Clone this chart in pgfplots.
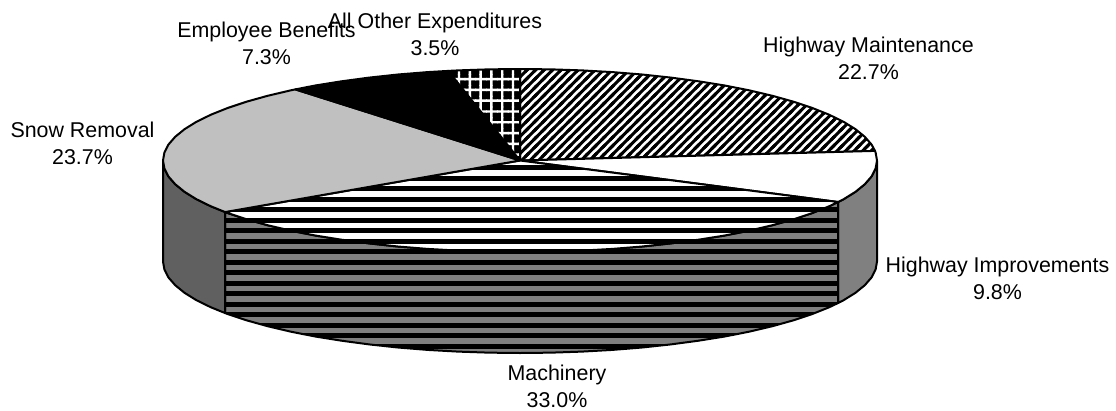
\documentclass[border=0pt]{standalone}
\usepackage{fontspec}
\setmainfont{Liberation Sans}
\usepackage{pgfplots}
\usepackage{pgfplotstable}
\pgfplotsset{compat=1.18}
\usetikzlibrary{patterns}
\pgfdeclarepatternformonly{hstr}{\pgfqpoint{-2pt}{-3pt}}{\pgfqpoint{12.5pt}{7.5pt}}{\pgfqpoint{10.5pt}{10.5pt}}{%
  \pgfpathrectangle{\pgfqpoint{-2pt}{-1.9pt}}{\pgfqpoint{14.5pt}{5.2pt}}\pgfusepath{fill}}
\pgfdeclarepatternformonly{dstr}{\pgfqpoint{-1pt}{-1pt}}{\pgfqpoint{9.5pt}{9.5pt}}{\pgfqpoint{8.5pt}{8.5pt}}{%
  \pgfsetlinewidth{3pt}\pgfsetbuttcap
  \pgfpathmoveto{\pgfqpoint{-2pt}{-2pt}}\pgfpathlineto{\pgfqpoint{10.5pt}{10.5pt}}
  \pgfpathmoveto{\pgfqpoint{-2pt}{-10.5pt}}\pgfpathlineto{\pgfqpoint{10.5pt}{2pt}}
  \pgfpathmoveto{\pgfqpoint{-2pt}{6.5pt}}\pgfpathlineto{\pgfqpoint{2pt}{10.5pt}}
  \pgfusepath{stroke}}
\pgfdeclarepatternformonly{xgrid}{\pgfqpoint{0pt}{0pt}}{\pgfqpoint{12pt}{12pt}}{\pgfqpoint{10.8pt}{10.8pt}}{%
  \pgfpathrectangle{\pgfqpoint{0pt}{5.7pt}}{\pgfqpoint{12pt}{2.4pt}}
  \pgfpathrectangle{\pgfqpoint{4.2pt}{0pt}}{\pgfqpoint{2.4pt}{12pt}}\pgfusepath{fill}}
\definecolor{wallL}{HTML}{606060}
\definecolor{wallM}{HTML}{808080}
\definecolor{silv}{HTML}{C0C0C0}
% top of the pie: slices as outlines
\pgfplotstableread{
x y
520 160.5
520 69
551.1 69.35
582.0 70.4
612.4 72.1
642.1 74.5
670.9 77.6
698.5 81.3
724.8 85.5
749.5 90.4
772.4 95.8
793.5 101.7
812.4 108.0
829.2 114.75
843.6 121.8
855.5 129.2
864.8 136.8
871.6 144.6
875.0 150.9
520 160.5
}\maint
\pgfplotstableread{
x y
520 160.5
875.0 150.9
875.6 152.5
877 160.5
875.6 168.5
871.6 176.4
864.8 184.2
855.5 191.8
843.6 199.2
838.1 202.0
520 160.5
}\improv
\pgfplotstableread{
x y
520 160.5
838.1 202.0
829.2 206.25
812.4 213.0
793.5 219.3
772.4 225.2
749.5 230.6
724.8 235.5
698.5 239.7
670.9 243.4
642.1 246.5
612.4 248.9
582.0 250.6
551.1 251.65
520 252
488.9 251.65
458.0 250.6
427.6 248.9
397.9 246.5
369.1 243.4
341.5 239.7
315.2 235.5
290.5 230.6
267.6 225.2
246.5 219.3
227.6 213.0
225.1 212.06
520 160.5
}\mach
\pgfplotstableread{
x y
520 160.5
225.1 212.06
210.8 206.25
196.4 199.2
184.5 191.8
175.2 184.2
168.4 176.4
164.4 168.5
163 160.5
164.4 152.5
168.4 144.6
175.2 136.8
184.5 129.2
196.4 121.8
210.8 114.75
227.6 108.0
246.5 101.7
267.6 95.8
290.5 90.4
295.3 89.4
520 160.5
}\snow
\pgfplotstableread{
x y
520 160.5
295.3 89.4
315.2 85.5
341.5 81.3
369.1 77.6
397.9 74.5
427.6 72.1
448.2 70.9
520 160.5
}\benef
\pgfplotstableread{
x y
520 160.5
448.2 70.9
458.0 70.4
488.9 69.35
520 69
520 160.5
}\other
% side wall
\pgfplotstableread{
x y
877 160.5
875.6 168.5
871.6 176.4
864.8 184.2
855.5 191.8
843.6 199.2
838.1 202.0
838.1 303.0
843.6 300.2
855.5 292.8
864.8 285.2
871.6 277.4
875.6 269.5
877 261.5
877 160.5
}\wallR
\pgfplotstableread{
x y
838.1 202.0
829.2 206.25
812.4 213.0
793.5 219.3
772.4 225.2
749.5 230.6
724.8 235.5
698.5 239.7
670.9 243.4
642.1 246.5
612.4 248.9
582.0 250.6
551.1 251.65
520 252
488.9 251.65
458.0 250.6
427.6 248.9
397.9 246.5
369.1 243.4
341.5 239.7
315.2 235.5
290.5 230.6
267.6 225.2
246.5 219.3
227.6 213.0
225.1 212.06
225.1 313.06
227.6 314.0
246.5 320.3
267.6 326.2
290.5 331.6
315.2 336.5
341.5 340.7
369.1 344.4
397.9 347.5
427.6 349.9
458.0 351.6
488.9 352.65
520 353
551.1 352.65
582.0 351.6
612.4 349.9
642.1 347.5
670.9 344.4
698.5 340.7
724.8 336.5
749.5 331.6
772.4 326.2
793.5 320.3
812.4 314.0
829.2 307.25
838.1 303.0
838.1 202.0
}\wallM
\pgfplotstableread{
x y
225.1 212.06
210.8 206.25
196.4 199.2
184.5 191.8
175.2 184.2
168.4 176.4
164.4 168.5
163 160.5
163 261.5
164.4 269.5
168.4 277.4
175.2 285.2
184.5 292.8
196.4 300.2
210.8 307.25
225.1 313.06
225.1 212.06
}\wallL
\begin{document}
\begin{tikzpicture}
\begin{axis}[
  at={(0pt,0pt)}, anchor=south west,
  scale only axis, width=1116pt, height=410pt,
  xmin=0, xmax=1116, ymin=0, ymax=410, y dir=reverse,
  axis lines=none, clip=true,
  every axis plot/.append style={no markers, line width=2pt, line join=round},
]
\addplot[draw=none, fill=wallM] table {\wallR};
\addplot[draw=none, fill=wallL] table {\wallL};
\addplot[draw=none, fill=wallM] table {\wallM};
\addplot[draw=none, pattern=hstr, pattern color=black] table {\wallM};
\addplot[draw=black] table {\wallR};
\addplot[draw=black] table {\wallL};
\addplot[draw=black] table {\wallM};
\addplot[draw=none, fill=white] table {\maint};
\addplot[draw=none, pattern=dstr, pattern color=black] table {\maint};
\addplot[draw=black] table {\maint};
\addplot[draw=black, fill=white] table {\improv};
\addplot[draw=none, fill=white] table {\mach};
\addplot[draw=none, pattern=hstr, pattern color=black] table {\mach};
\addplot[draw=black] table {\mach};
\addplot[draw=black, fill=silv] table {\snow};
\addplot[draw=black, fill=black] table {\benef};
\addplot[draw=none, fill=black] table {\other};
\addplot[draw=none, pattern=xgrid, pattern color=white] table {\other};
\addplot[draw=black] table {\other};
\tikzset{lab/.style={align=center, inner sep=0pt, font=\fontsize{21.4}{26.8}\selectfont}}
\node[lab] at (axis cs:868.5,58) {Highway Maintenance\\22.7\%};
\node[lab] at (axis cs:997.5,278.5) {Highway Improvements\\9.8\%};
\node[lab] at (axis cs:557,386.5) {Machinery\\33.0\%};
\node[lab] at (axis cs:82.5,143.5) {Snow Removal\\23.7\%};
\node[lab] at (axis cs:266.5,43.5) {Employee Benefits\\7.3\%};
\node[lab] at (axis cs:435,34.5) {All Other Expenditures\\3.5\%};
\end{axis}
\path (0pt,0pt) rectangle (1116pt,410pt);
\end{tikzpicture}
\end{document}
